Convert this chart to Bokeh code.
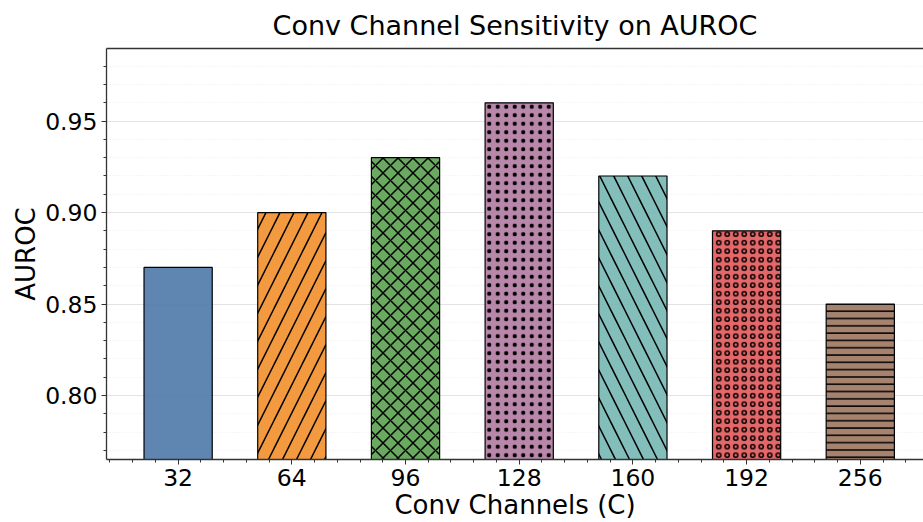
from bokeh.plotting import figure
from bokeh.models import (ColumnDataSource, Range1d, FixedTicker, SingleIntervalTicker,
                          PrintfTickFormatter, LinearAxis)
from bokeh.embed import file_html
from bokeh.resources import INLINE

# ---- data ----
channels = ["32", "64", "96", "128", "160", "192", "256"]
auroc = [0.87, 0.90, 0.93, 0.96, 0.92, 0.89, 0.85]
colors = ["#4e79a7", "#f28e2b", "#59a14f", "#b07aa1", "#76b7b2", "#e15759", "#9c755f"]
hatches = [" ", "/", "x", ".", "\\", "o", "-"]
hatch_scales = [10, 28, 15, 8.5, 28, 8.5, 7.3]
title_text = "Conv Channel Sensitivity on AUROC"
x_label = "Conv Channels (C)"
y_label = "AUROC"

n = len(channels)
xs = list(range(n))
src = ColumnDataSource(dict(x=xs, top=auroc, color=colors, hatch=hatches, hs=hatch_scales))

FONT = "DejaVu Sans"
p = figure(width=923, height=522, output_backend="svg", toolbar_location=None,
           x_range=Range1d(-0.63, 6.556), y_range=Range1d(0.765, 0.9897),
           min_border_left=106, min_border_top=0, min_border_bottom=55, min_border_right=0)

p.title.text = title_text
p.title.text_font = FONT
p.title.text_font_size = "27px"
p.title.text_font_style = "normal"
p.title.text_color = "black"
p.title.align = "center"
p.title.offset = 5
p.title.standoff = 15

p.vbar(x="x", top="top", bottom=0.0, width=0.6, source=src,
       fill_color="color", fill_alpha=0.9, line_color="black", line_width=1.2,
       hatch_pattern="hatch", hatch_color="black", hatch_weight=1.5, hatch_scale="hs")

xaxis = p.below[0]
yaxis = p.left[0]

# top spine
top_axis = LinearAxis(major_tick_line_color=None, minor_tick_line_color=None,
                      major_label_text_font_size="0px", axis_line_color="#333333",
                      axis_line_width=1.3, major_label_standoff=0)
top_axis.ticker = FixedTicker(ticks=[])
p.add_layout(top_axis, "above")
p.outline_line_color = None

# x axis
xaxis.ticker = FixedTicker(ticks=xs, minor_ticks=[i * 0.2 for i in range(-3, 34)])
xaxis.major_label_overrides = {i: c for i, c in enumerate(channels)}
xaxis.axis_label = x_label

# y axis
yaxis.ticker = SingleIntervalTicker(interval=0.05, num_minor_ticks=5)
yaxis.formatter = PrintfTickFormatter(format="%.2f")
yaxis.axis_label = y_label

for ax in (xaxis, yaxis):
    ax.axis_label_text_font = FONT
    ax.axis_label_text_font_size = "26px"
    ax.axis_label_text_font_style = "normal"
    ax.axis_label_text_color = "black"
    ax.major_label_text_font = FONT
    ax.major_label_text_font_size = "23.5px"
    ax.major_label_text_color = "black"
    ax.axis_line_color = "#333333"
    ax.axis_line_width = 1.3
    ax.major_tick_line_color = "#333333"
    ax.minor_tick_line_color = "#333333"
    ax.major_tick_in = 0
    ax.major_tick_out = 5
    ax.minor_tick_in = 0
    ax.minor_tick_out = 3
    ax.major_label_standoff = 4
    ax.axis_label_standoff = 1

p.xgrid.grid_line_color = None
p.ygrid.grid_line_color = "#e3e3e3"
p.ygrid.grid_line_width = 1
p.ygrid.minor_grid_line_color = "#eeeeee"
p.ygrid.minor_grid_line_dash = "1 2"
p.ygrid.minor_grid_line_width = 1

open("out.html", "w").write(file_html(p, INLINE))
